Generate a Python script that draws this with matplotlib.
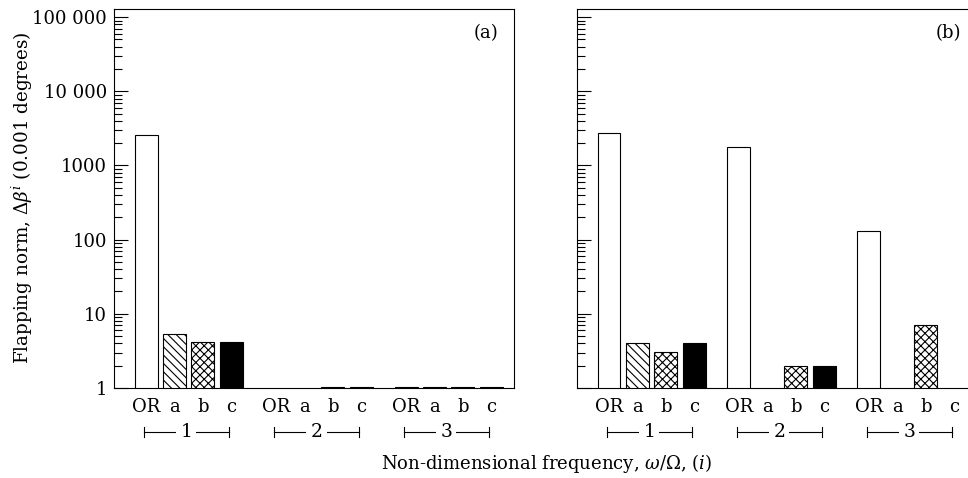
import numpy as np
import matplotlib
matplotlib.use("Agg")
from matplotlib import pyplot as plt
from matplotlib.ticker import FixedLocator, LogLocator, NullFormatter

plt.rcParams['font.family'] = ['DejaVu Serif']
plt.rcParams['mathtext.fontset'] = 'dejavuserif'
plt.rcParams['hatch.linewidth'] = 0.8

# data, order inside each group: OR, a, b, c ; None = no bar
groups = ['1', '2', '3']
bar_names = ['OR', 'a', 'b', 'c']
panel_a = [[2550, 5.3, 4.2, 4.2],
           [None, None, 1.03, 1.03],
           [1.03, 1.03, 1.03, 1.03]]
panel_b = [[2750, 4.1, 3.05, 4.05],
           [1800, None, 2.0, 2.0],
           [130, None, 7.1, None]]
ytick_vals = [1, 10, 100, 1000, 10000, 100000]
ytick_labels = ['1', '10', '100', '1000', '10 000', '100 000']

fills = ['white', 'white', 'white', 'black']
hatches = [None, '\\\\\\\\', 'xxxx', None]
group_step = 4.58
width = 0.81

fig = plt.figure(figsize=(9.68, 4.78), dpi=100)
ax_a = fig.add_axes([0.1178, 0.1883, 0.4137, 0.7929])
ax_b = fig.add_axes([0.596, 0.1883, 0.4137, 0.7929])


def draw(ax, data, tag, show_labels):
    for g, row in enumerate(data):
        for k, v in enumerate(row):
            if v is None:
                continue
            ax.bar(g * group_step + k, v, width=width, color=fills[k],
                   hatch=hatches[k], edgecolor='black', linewidth=0.8)
    ax.set_yscale('log')
    ax.set_ylim(1, 10 ** 5.11)
    ax.set_xlim(-1.13, 12.98)
    ax.yaxis.set_major_locator(FixedLocator(ytick_vals))
    ax.yaxis.set_minor_locator(LogLocator(base=10, subs=np.arange(2, 10)))
    ax.yaxis.set_minor_formatter(NullFormatter())
    if show_labels:
        ax.set_yticklabels(ytick_labels)
    else:
        ax.set_yticklabels([])
    ax.tick_params(axis='y', which='major', direction='in', length=10,
                   width=0.8, labelsize=13, pad=5)
    ax.tick_params(axis='y', which='minor', direction='in', length=5.5,
                   width=0.8)
    ax.set_xticks([])
    for s in ax.spines.values():
        s.set_linewidth(0.8)
    trans = ax.get_xaxis_transform()
    for g, name in enumerate(groups):
        x0 = g * group_step
        for k, lab in enumerate(bar_names):
            ax.text(x0 + k, -0.05, lab, transform=trans, ha='center',
                    va='center', fontsize=13)
        left, right = x0 - 0.08, x0 + 2.92
        yb = -0.117
        ax.plot([left, right], [yb, yb], color='black', lw=0.8,
                transform=trans, clip_on=False)
        for xe in (left, right):
            ax.plot([xe, xe], [yb - 0.013, yb + 0.013], color='black',
                    lw=0.8, transform=trans, clip_on=False)
        ax.text(x0 + 1.42, yb, name, transform=trans, ha='center',
                va='center', fontsize=13.5,
                bbox=dict(facecolor='white', edgecolor='none', pad=3))
    ax.text(0.96, 0.937, tag, transform=ax.transAxes, ha='right',
            va='center', fontsize=13)


draw(ax_a, panel_a, '(a)', True)
draw(ax_b, panel_b, '(b)', False)
# the reference crops panel (b) at its right side
ax_b.spines['right'].set_visible(False)

fig.text(0.023, 0.587, r'Flapping norm, $\mathit{\Delta\beta^{i}}$ (0.001 degrees)',
         rotation=90, ha='center', va='center', fontsize=13.2)
fig.text(0.565, 0.03, r'Non-dimensional frequency, $\mathit{\omega/\Omega}$, ($\mathit{i}$)',
         ha='center', va='center', fontsize=13)

fig.savefig('out.png', dpi=100)
